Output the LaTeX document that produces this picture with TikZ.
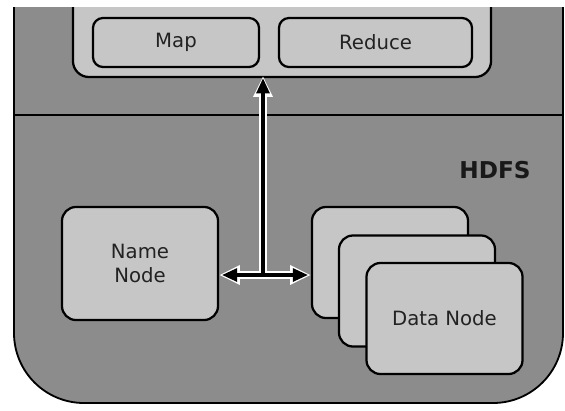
\documentclass[tikz,border=0pt]{standalone}
\usepackage{fontspec}
\setmainfont{DejaVu Sans}
\usepackage{tikz}
\usetikzlibrary{arrows.meta,positioning,calc}
\definecolor{panelgray}{HTML}{8C8C8C}
\definecolor{boxgray}{HTML}{C6C6C6}
\definecolor{inkgray}{HTML}{222222}
\tikzset{
  box/.style={draw=black, line width=1.6pt, fill=boxgray, rounded corners=0.35cm,
    text=inkgray, font=\fontsize{14}{17.7}\selectfont, align=center, inner sep=0pt},
  datanode/.style={box, minimum width=3.9cm, minimum height=2.775cm},
  jobbox/.style={box, rounded corners=0.25cm, minimum height=1.225cm},
  flowhalo/.style={white, line width=5pt},
  flowcore/.style={black, line width=2.4pt}
}

\begin{document}
\begin{tikzpicture}[x=0.025cm, y=-0.025cm]
            \useasboundingbox (0,0) rectangle (565,410);
            \coordinate (P) at (282,12);
            \coordinate (N) at (140,263.5);
            \coordinate (D) at (390,262.5);
            \coordinate (J) at (263,275);
            \begin{scope}
            \clip (0,7) rectangle (565,410);
            \filldraw [panelgray, draw=black, line width=1.3pt, rounded corners=1.75cm]
                (14,-60) -- (14,403) -- (563,403) -- (563,-60);
            \draw [line width=1.3pt] (14,115) -- (563,115);
            \node [box, rounded corners=0.4cm, minimum width=10.45cm, minimum height=3.25cm] (mr) at (P) {};
            \end{scope}
            \node [jobbox, minimum width=4.15cm]  (map)    at (176,42.5)   {Map};
            \node [jobbox, minimum width=4.825cm] (reduce) at (375.5,42.5) {Reduce};
            \node [font=\bfseries\fontsize{16.5}{20}\selectfont, text=black!90] (hdfs) at (495,170) {HDFS};
            \node [box, minimum width=3.9cm, minimum height=2.825cm] (name) at (N) {Name\\Node};
            \node [datanode] (data1) at (D) {};
            \node [datanode] (data2) at ($(D)+(27,28.5)$) {};
            \node [datanode] (data3) at ($(D)+(54.5,56)$) {Data Node};
            \draw [flowhalo, {Triangle[length=0.52cm,width=0.46cm]}-{Triangle[length=0.52cm,width=0.46cm]}]
                (name.east |- J) -- (data1.west |- J);
            \draw [flowhalo, shorten >=-0.05cm, -{Triangle[length=0.52cm,width=0.46cm]}] (J) -- (J |- mr.south);
            \draw [flowcore, shorten <=0.07cm, shorten >=0.07cm,
                   {Triangle[length=0.38cm,width=0.32cm]}-{Triangle[length=0.38cm,width=0.32cm]}]
                (name.east |- J) -- (data1.west |- J);
            \draw [flowcore, -{Triangle[length=0.38cm,width=0.32cm]}] (J) -- (J |- mr.south);
\end{tikzpicture}
\end{document}
